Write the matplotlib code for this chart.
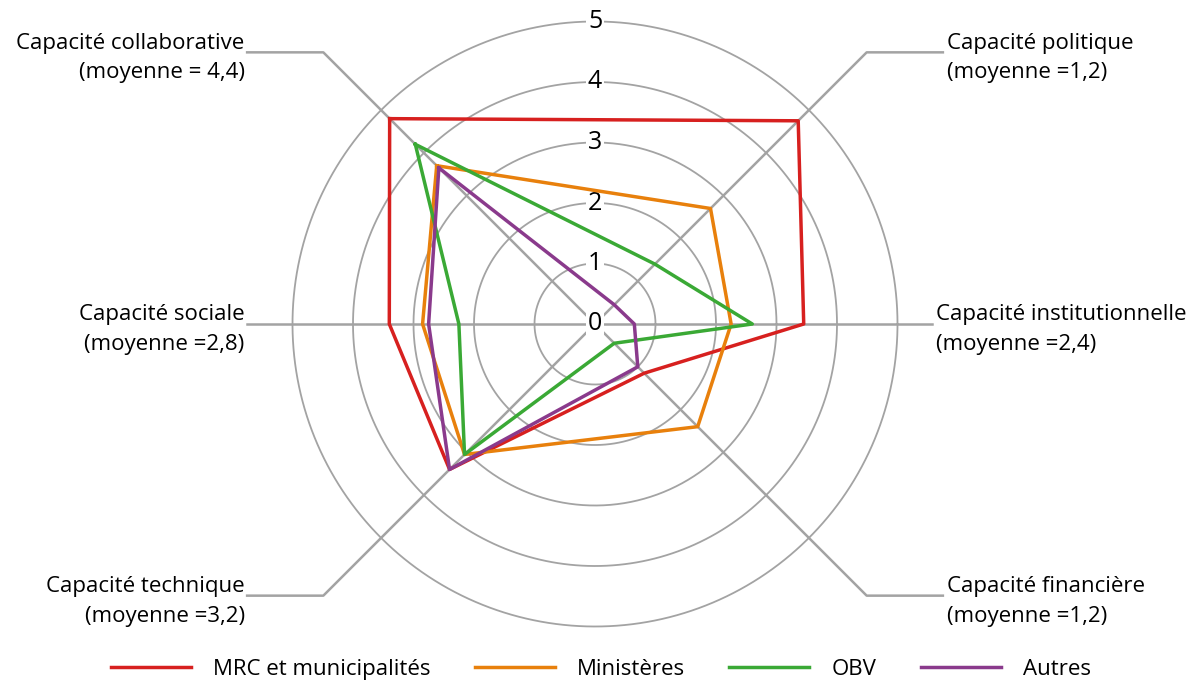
import numpy as np
import matplotlib.pyplot as plt

plt.rcParams['font.family'] = ['Open Sans', 'DejaVu Sans']

# axes du radar (angle en degrés, 0 = droite, sens trigo)
axes_noms = ["Capacité collaborative", "Capacité politique", "Capacité institutionnelle",
             "Capacité financière", "Capacité technique", "Capacité sociale"]
moyennes = ["(moyenne = 4,4)", "(moyenne =1,2)", "(moyenne =2,4)",
            "(moyenne =1,2)", "(moyenne =3,2)", "(moyenne =2,8)"]
angles_deg = [135, 45, 0, -45, -135, 180]

# valeurs
mrc = [4.8, 4.75, 3.45, 1.15, 3.4, 3.4]
ministeres = [3.7, 2.7, 2.25, 2.4, 3.05, 2.85]
obv = [4.2, 1.4, 2.6, 0.45, 3.05, 2.25]
autres = [3.65, 0.45, 0.65, 1.0, 3.4, 2.75]
series = [mrc, ministeres, obv, autres]
noms_series = ["MRC et municipalités", "Ministères", "OBV", "Autres"]
couleurs = ["#d7201f", "#e8800c", "#3aa935", "#8a3a8c"]
graduations = [0, 1, 2, 3, 4, 5]

gris = "#a3a3a3"
W, H = 1197, 683
cx, cy, echelle = 595, 324, 60.5   # centre en pixels, pixels par unité

fig = plt.figure(figsize=(W / 100, H / 100), dpi=100)
ax = fig.add_axes([0, 0, 1, 1])
ax.set_xlim(-cx / echelle, (W - cx) / echelle)
ax.set_ylim(-(H - cy) / echelle, cy / echelle)
ax.axis('off')

# cercles
t = np.linspace(0, 2 * np.pi, 500)
for r in graduations[1:]:
    ax.plot(r * np.cos(t), r * np.sin(t), color=gris, lw=1.3, zorder=1)

# rayons + traits de renvoi + étiquettes
theta = np.deg2rad(angles_deg)
for nom, moy, a in zip(axes_noms, moyennes, theta):
    c, s = np.cos(a), np.sin(a)
    if abs(s) < 1e-6:
        xe = 5.75 if c < 0 else 5.57
        xs = [0, np.sign(c) * xe]
        ys = [0, 0]
    else:
        coin = 6.35
        xe = 5.75
        xs = [0, coin * c, np.sign(c) * xe]
        ys = [0, coin * s, coin * s]
    ax.plot(xs, ys, color=gris, lw=1.8, zorder=1)
    ha = 'right' if c < 0 else 'left'
    xt = xs[-1] + (-0.04 if c < 0 else 0.06)
    yt = ys[-1] + 0.06
    ax.text(xt, yt, nom, ha=ha, va='baseline', fontsize=16)
    ax.text(xt, yt - 0.49, moy, ha=ha, va='baseline', fontsize=16)

# graduations
for r in graduations:
    ax.text(0, r, str(r), ha='center', va='center', fontsize=18, zorder=2,
            bbox=dict(facecolor='white', edgecolor='none', pad=1.0))

# séries
for vals, nom, col in zip(series, noms_series, couleurs):
    v = np.array(vals + vals[:1])
    a = np.append(theta, theta[0])
    ax.plot(v * np.cos(a), v * np.sin(a), color=col, lw=2.5, label=nom, zorder=3)

fig.legend(loc='center', bbox_to_anchor=(0.502, 0.02), ncol=4, frameon=False,
           fontsize=16, handlelength=3.6, handletextpad=1.0, columnspacing=2.0)

fig.savefig("out.png", dpi=100)
